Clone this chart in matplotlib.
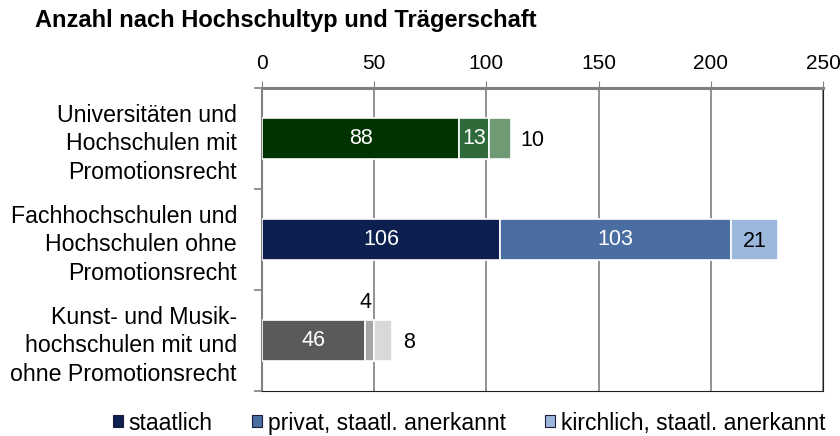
import matplotlib.pyplot as plt
from matplotlib.patches import Rectangle

plt.rcParams['font.family'] = ['Liberation Sans', 'DejaVu Sans']

# Data
categories = ["Universitäten und\nHochschulen mit\nPromotionsrecht",
              "Fachhochschulen und\nHochschulen ohne\nPromotionsrecht",
              "Kunst- und Musik-\nhochschulen mit und\nohne Promotionsrecht"]
staatlich = [88, 106, 46]
privat = [13, 103, 4]
kirchlich = [10, 21, 8]
series_names = ["staatlich", "privat, staatl. anerkannt", "kirchlich, staatl. anerkannt"]

# colours per row (dark, medium, light)
row_colors = [["#003300", "#2f6a3b", "#6f9a73"],
              ["#0c1f4f", "#4a6ea1", "#9bb8dc"],
              ["#5a5a5a", "#a6a6a6", "#d9d9d9"]]

fig = plt.figure(figsize=(8.4, 4.36), dpi=100)
ax = fig.add_axes([262/840, 1 - 391/436, (823 - 262)/840, (391 - 88)/436])

for i in range(len(categories)):
    vals = [staatlich[i], privat[i], kirchlich[i]]
    left = 0
    for j, v in enumerate(vals):
        ax.barh(i, v, left=left, height=0.4, color=row_colors[i][j],
                edgecolor="white", linewidth=1.2, zorder=3)
        if j < 2 and v > 5:
            ax.text(left + v / 2, i, str(v), ha="center", va="center", color="white",
                    fontsize=15.5, zorder=4)
        left += v

# outside / special labels
ax.text(staatlich[0] + privat[0] + kirchlich[0] + 4, 0.02, str(kirchlich[0]),
        ha="left", va="center", fontsize=15.5)
ax.text(staatlich[1] + privat[1] + kirchlich[1] / 2, 1.02, str(kirchlich[1]),
        ha="center", va="center", fontsize=15.5)
ax.text(staatlich[2] + privat[2] / 2 - 2, 1.62, str(privat[2]),
        ha="center", va="center", fontsize=15.5)
ax.text(staatlich[2] + privat[2] + kirchlich[2] + 5, 2.02, str(kirchlich[2]),
        ha="left", va="center", fontsize=15.5)

ax.set_xlim(0, 250)
ax.set_xticks([0, 50, 100, 150, 200, 250])
ax.xaxis.tick_top()
ax.tick_params(axis="x", length=5, color="#808080", labelsize=15, pad=6)
ax.grid(axis="x", color="#808080", linewidth=1.2, zorder=0)

ax.set_ylim(2.5, -0.5)
ax.set_yticks([0, 1, 2])
ax.set_yticklabels(categories, fontsize=16.7, linespacing=1.3)
ax.set_yticks([-0.5, 0.5, 1.5, 2.5], minor=True)
ax.tick_params(axis="y", which="major", length=0, pad=18)
ax.tick_params(axis="y", which="minor", length=6, color="#808080", width=1.2)

ax.spines["top"].set_color("#808080")
ax.spines["top"].set_linewidth(2.2)
ax.spines["left"].set_color("#808080")
ax.spines["left"].set_linewidth(1.5)
ax.spines["right"].set_color("#202020")
ax.spines["bottom"].set_color("#202020")

fig.text(35/840, 1 - 20/436, "Anzahl nach Hochschultyp und Trägerschaft",
         fontsize=17, fontweight="bold", ha="left", va="center")

# legend
handles = [Rectangle((0, 0), 1, 1, facecolor=c, edgecolor="#1a1a3a", linewidth=0.8)
           for c in row_colors[1]]
fig.legend(handles, series_names, loc="center", bbox_to_anchor=(469/840, 1 - 423/436),
           ncol=3, frameon=False, fontsize=16.5, handlelength=0.45, handleheight=0.45,
           handletextpad=0.25, columnspacing=1.7)

plt.savefig("out.png", dpi=100)
